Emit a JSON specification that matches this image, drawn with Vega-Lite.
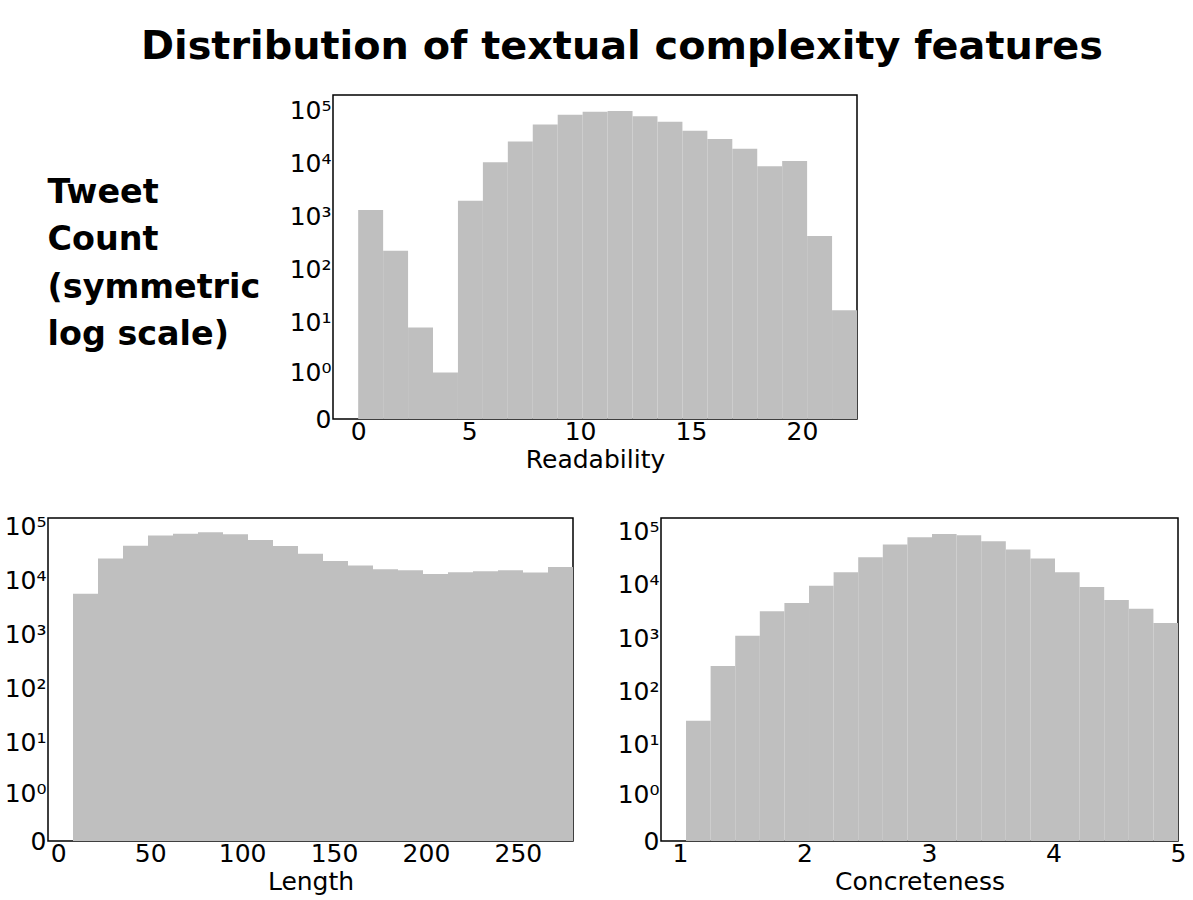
{
  "$schema": "https://vega.github.io/schema/vega-lite/v6.json",
  "background": "white",
  "padding": {"left": 3, "top": 27, "right": 5, "bottom": 5},
  "autosize": {"type": "pad"},
  "title": {
    "text": "Distribution of textual complexity features",
    "font": "DejaVu Sans", "fontSize": 39.8, "fontWeight": "bold", "color": "black",
    "anchor": "start", "frame": "group", "baseline": "alphabetic", "offset": -5, "dx": 93
  },
  "datasets": {
    "readability": [
      {"bin_start": 0, "bin_end": 1.124, "count": 1320},
      {"bin_start": 1.124, "bin_end": 2.248, "count": 227},
      {"bin_start": 2.248, "bin_end": 3.372, "count": 8},
      {"bin_start": 3.372, "bin_end": 4.496, "count": 1},
      {"bin_start": 4.496, "bin_end": 5.62, "count": 1960},
      {"bin_start": 5.62, "bin_end": 6.744, "count": 10400},
      {"bin_start": 6.744, "bin_end": 7.868, "count": 25500},
      {"bin_start": 7.868, "bin_end": 8.992, "count": 53800},
      {"bin_start": 8.992, "bin_end": 10.116, "count": 82000},
      {"bin_start": 10.116, "bin_end": 11.24, "count": 93300},
      {"bin_start": 11.24, "bin_end": 12.364, "count": 96200},
      {"bin_start": 12.364, "bin_end": 13.488, "count": 76200},
      {"bin_start": 13.488, "bin_end": 14.612, "count": 60500},
      {"bin_start": 14.612, "bin_end": 15.736, "count": 41000},
      {"bin_start": 15.736, "bin_end": 16.86, "count": 28600},
      {"bin_start": 16.86, "bin_end": 17.984, "count": 18800},
      {"bin_start": 17.984, "bin_end": 19.108, "count": 8750},
      {"bin_start": 19.108, "bin_end": 20.232, "count": 11000},
      {"bin_start": 20.232, "bin_end": 21.356, "count": 430},
      {"bin_start": 21.356, "bin_end": 22.48, "count": 17}
    ],
    "length": [
      {"bin_start": 8, "bin_end": 21.6, "count": 5770},
      {"bin_start": 21.6, "bin_end": 35.2, "count": 25800},
      {"bin_start": 35.2, "bin_end": 48.8, "count": 44400},
      {"bin_start": 48.8, "bin_end": 62.4, "count": 69200},
      {"bin_start": 62.4, "bin_end": 76, "count": 74100},
      {"bin_start": 76, "bin_end": 89.6, "count": 78700},
      {"bin_start": 89.6, "bin_end": 103.2, "count": 72300},
      {"bin_start": 103.2, "bin_end": 116.8, "count": 56600},
      {"bin_start": 116.8, "bin_end": 130.4, "count": 43800},
      {"bin_start": 130.4, "bin_end": 144, "count": 31500},
      {"bin_start": 144, "bin_end": 157.6, "count": 23300},
      {"bin_start": 157.6, "bin_end": 171.2, "count": 19100},
      {"bin_start": 171.2, "bin_end": 184.8, "count": 16300},
      {"bin_start": 184.8, "bin_end": 198.4, "count": 15700},
      {"bin_start": 198.4, "bin_end": 212, "count": 13400},
      {"bin_start": 212, "bin_end": 225.6, "count": 14400},
      {"bin_start": 225.6, "bin_end": 239.2, "count": 15000},
      {"bin_start": 239.2, "bin_end": 252.8, "count": 15700},
      {"bin_start": 252.8, "bin_end": 266.4, "count": 14200},
      {"bin_start": 266.4, "bin_end": 280, "count": 18000}
    ],
    "concreteness": [
      {"bin_start": 1.048, "bin_end": 1.2456, "count": 28},
      {"bin_start": 1.2456, "bin_end": 1.4432, "count": 299},
      {"bin_start": 1.4432, "bin_end": 1.6408, "count": 1116},
      {"bin_start": 1.6408, "bin_end": 1.8384, "count": 3200},
      {"bin_start": 1.8384, "bin_end": 2.036, "count": 4570},
      {"bin_start": 2.036, "bin_end": 2.2336, "count": 9640},
      {"bin_start": 2.2336, "bin_end": 2.4312, "count": 17400},
      {"bin_start": 2.4312, "bin_end": 2.6288, "count": 33200},
      {"bin_start": 2.6288, "bin_end": 2.8264, "count": 57400},
      {"bin_start": 2.8264, "bin_end": 3.024, "count": 78700},
      {"bin_start": 3.024, "bin_end": 3.2216, "count": 90800},
      {"bin_start": 3.2216, "bin_end": 3.4192, "count": 85700},
      {"bin_start": 3.4192, "bin_end": 3.6168, "count": 66200},
      {"bin_start": 3.6168, "bin_end": 3.8144, "count": 46300},
      {"bin_start": 3.8144, "bin_end": 4.012, "count": 31400},
      {"bin_start": 4.012, "bin_end": 4.2096, "count": 17400},
      {"bin_start": 4.2096, "bin_end": 4.4072, "count": 9120},
      {"bin_start": 4.4072, "bin_end": 4.6048, "count": 5200},
      {"bin_start": 4.6048, "bin_end": 4.8024, "count": 3570},
      {"bin_start": 4.8024, "bin_end": 5.0, "count": 1930}
    ]
  },
  "spacing": 40,
  "vconcat": [
    {
      "spacing": -3,
      "hconcat": [
        {
          "data": {"values": []},
          "mark": "point",
          "width": 1,
          "height": 10,
          "view": {"stroke": null}
        },
        {
          "data": {"name": "readability"},
          "width": 524,
          "height": 324,
          "mark": {"type": "bar", "color": "#bfbfbf"},
          "encoding": {
            "x": {
              "field": "bin_start", "type": "quantitative",
              "scale": {"domain": [-1.135, 22.48], "nice": false, "zero": false},
              "axis": {"values": [0, 5, 10, 15, 20], "title": "Readability"}
            },
            "x2": {"field": "bin_end"},
            "y": {
              "field": "count", "type": "quantitative",
              "scale": {"type": "symlog", "constant": 0.155, "domain": [0, 192000], "nice": false},
              "axis": {
                "values": [0, 1, 10, 100, 1000, 10000, 100000],
                "labelExpr": "datum.value == 0 ? '0' : datum.value == 1 ? '10⁰' : datum.value == 10 ? '10¹' : datum.value == 100 ? '10²' : datum.value == 1000 ? '10³' : datum.value == 10000 ? '10⁴' : '10⁵'",
                "title": ["Tweet", "Count", "(symmetric", "log scale)"],
                "titleAngle": 0,
                "titleAlign": "left",
                "titleBaseline": "alphabetic",
                "titleX": -286,
                "titleY": 107,
                "titleFont": "DejaVu Sans",
                "titleFontSize": 33.4,
                "titleFontWeight": "bold",
                "titleLineHeight": 47.5
              }
            },
            "y2": {"datum": 0}
          }
        }
      ]
    },
    {
      "spacing": 42,
      "hconcat": [
        {
          "data": {"name": "length"},
          "width": 525,
          "height": 323,
          "mark": {"type": "bar", "color": "#bfbfbf"},
          "encoding": {
            "x": {
              "field": "bin_start", "type": "quantitative",
              "scale": {"domain": [-5.6, 280], "nice": false, "zero": false},
              "axis": {"values": [0, 50, 100, 150, 200, 250], "title": "Length"}
            },
            "x2": {"field": "bin_end"},
            "y": {
              "field": "count", "type": "quantitative",
              "scale": {"type": "symlog", "constant": 0.155, "domain": [0, 145000], "nice": false},
              "axis": {
                "values": [0, 1, 10, 100, 1000, 10000, 100000],
                "labelExpr": "datum.value == 0 ? '0' : datum.value == 1 ? '10⁰' : datum.value == 10 ? '10¹' : datum.value == 100 ? '10²' : datum.value == 1000 ? '10³' : datum.value == 10000 ? '10⁴' : '10⁵'",
                "title": null
              }
            },
            "y2": {"datum": 0}
          }
        },
        {
          "data": {"name": "concreteness"},
          "width": 517,
          "height": 323,
          "mark": {"type": "bar", "color": "#bfbfbf"},
          "encoding": {
            "x": {
              "field": "bin_start", "type": "quantitative",
              "scale": {"domain": [0.847, 5.0], "nice": false, "zero": false},
              "axis": {"values": [1, 2, 3, 4, 5], "title": "Concreteness"}
            },
            "x2": {"field": "bin_end"},
            "y": {
              "field": "count", "type": "quantitative",
              "scale": {"type": "symlog", "constant": 0.155, "domain": [0, 181000], "nice": false},
              "axis": {
                "values": [0, 1, 10, 100, 1000, 10000, 100000],
                "labelExpr": "datum.value == 0 ? '0' : datum.value == 1 ? '10⁰' : datum.value == 10 ? '10¹' : datum.value == 100 ? '10²' : datum.value == 1000 ? '10³' : datum.value == 10000 ? '10⁴' : '10⁵'",
                "title": null
              }
            },
            "y2": {"datum": 0}
          }
        }
      ]
    }
  ],
  "config": {
    "view": {"stroke": "black", "strokeWidth": 1.5},
    "axis": {
      "ticks": false, "tickSize": 0, "domain": false, "grid": false,
      "labelFont": "DejaVu Sans", "labelFontSize": 25, "labelColor": "black",
      "titleFont": "DejaVu Sans", "titleFontSize": 25, "titleFontWeight": "normal", "titleColor": "black",
      "labelFlush": false, "labelOverlap": false, "labelPadding": 3
    },
    "axisX": {"titlePadding": 3, "labelPadding": 0},
    "axisY": {"labelPadding": 2}
  }
}
